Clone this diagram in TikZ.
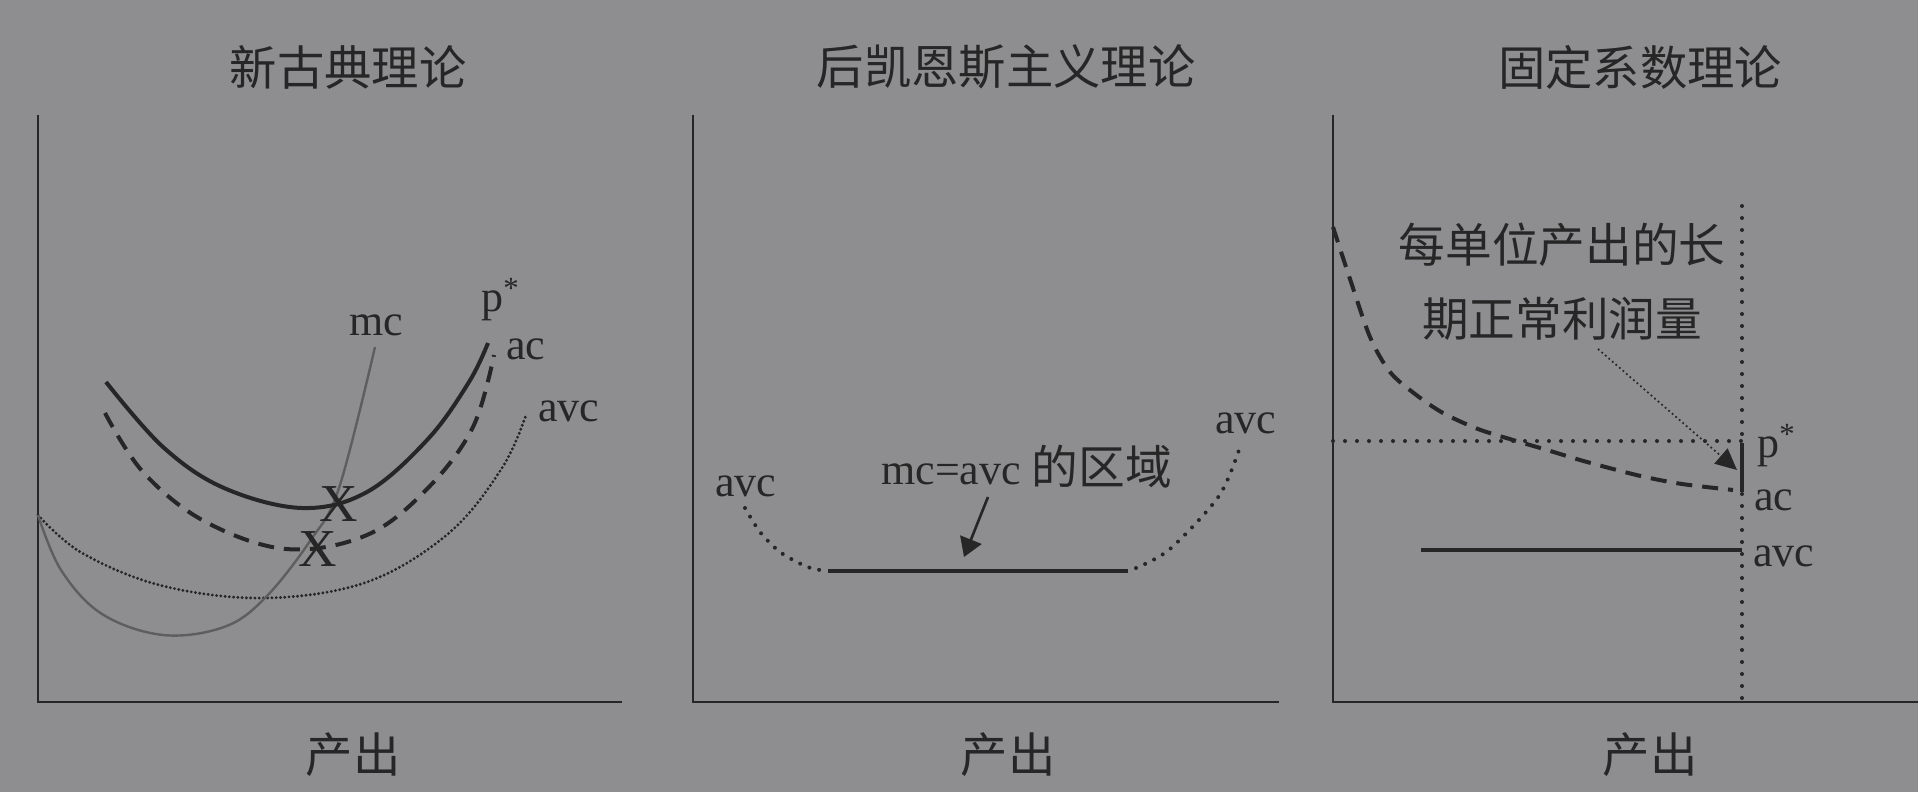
\documentclass[tikz,border=0pt]{standalone}
\usepackage{fontspec}
\setmainfont{Liberation Serif}
\newfontfamily\cjk{Noto Sans CJK SC}
\usetikzlibrary{arrows.meta}
\definecolor{bg}{HTML}{8E8E90}
\definecolor{ink}{HTML}{262626}
\definecolor{mcgray}{HTML}{5E5E5E}
\begin{document}
\begin{tikzpicture}[x=0.75pt,y=-0.75pt,
  axis/.style={draw=ink, line width=1.9pt},
  solidc/.style={draw=ink, line width=3pt},
  dashc/.style={draw=ink, line width=3pt, dash pattern=on 12pt off 7.5pt},
  densedot/.style={draw=ink, line width=2.4pt, line cap=round, dash pattern=on 0pt off 3.2pt},
  sparsedot/.style={draw=ink, line width=3pt, line cap=round, dash pattern=on 0pt off 7.5pt},
  sparsedotb/.style={draw=ink, line width=3pt, line cap=round, dash pattern=on 0pt off 9pt},
  mccurve/.style={draw=mcgray, line width=1.8pt},
  ttl/.style={font=\cjk\fontsize{35.5}{42}\selectfont, text=ink, inner sep=0pt},
  lab/.style={font=\fontsize{33}{38}\selectfont, text=ink, inner sep=0pt},
  cjklab/.style={font=\cjk\fontsize{35}{42}\selectfont, text=ink, inner sep=0pt},
  xmark/.style={font=\fontsize{40}{44}\selectfont, text=ink, inner sep=0pt}]
\fill[bg] (0,0) rectangle (1918,792);
\useasboundingbox (0,0) rectangle (1918,792);

% ---------- titles and x labels
\node[ttl] (t1) at (348,67) {新古典理论};
\node[ttl] (t2) at (1006,67) {后凯恩斯主义理论};
\node[ttl] (t3) at (1640,67) {固定系数理论};
\node[ttl] (o1lab) at (353,755) {产出};
\node[ttl] (o2lab) at (1008,755) {产出};
\node[ttl] (o3lab) at (1650,755) {产出};

% ---------- axes
\coordinate (y1top) at (38,115); \coordinate (o1) at (38,702); \coordinate (x1end) at (622,702);
\coordinate (y2top) at (693,115); \coordinate (o2) at (693,702); \coordinate (x2end) at (1279,702);
\coordinate (y3top) at (1333,115); \coordinate (o3) at (1333,702); \coordinate (x3end) at (1918,702);
\draw[axis] (y1top) -- (o1) -- (x1end);
\draw[axis] (y2top) -- (o2) -- (x2end);
\draw[axis] (y3top) -- (o3) -- (x3end);

% ---------- panel 1
\draw[densedot] plot[smooth, tension=0.6] coordinates {(38,515) (82,553) (163,586) (265,598) (367,582) (449,533) (502,468) (526,415)};
\draw[mccurve] plot[smooth, tension=0.6] coordinates {(38,515) (61,570) (102,614) (163,635) (224,627) (265,598) (310,541) (339,488) (375,347)};
\draw[dashc] plot[smooth, tension=0.6] coordinates {(105,413) (143,472) (204,521) (286,549) (367,535) (428,488) (473,427) (494,355)};
\draw[solidc] plot[smooth, tension=0.6] coordinates {(106,382) (163,447) (224,488) (302,508) (367,492) (428,439) (469,382) (488,343)};
\node[xmark] (x1) at (339,504) {X};
\node[xmark] (x2) at (318,549) {X};
\node[lab, anchor=base west] (mc1) at (349,335) {mc};
\node[lab, anchor=base west] (p1) at (481,311) {p\textsuperscript{*}};
\node[lab, anchor=base west] (ac1) at (506,359) {ac};
\node[lab, anchor=base west] (avc1) at (538,421) {avc};

% ---------- panel 2
\coordinate (fl) at (828,571); \coordinate (fr) at (1128,571);
\draw[sparsedot] plot[smooth] coordinates {(745,508) (760,532) (780,552) (805,566) (820,570)};
\draw[sparsedot] plot[smooth] coordinates {(1136,568) (1170,549) (1219,496) (1240,447)};
\draw[solidc] (fl) -- (fr);
\node[lab, anchor=base west] (avcl) at (715,496) {avc};
\node[lab, anchor=base west] (avcr) at (1215,433) {avc};
\node[lab, anchor=base west] (zone) at (881,484) {mc=avc {\cjk\fontsize{35}{42}\selectfont 的区域}};
\coordinate (a2s) at (988,497); \coordinate (a2e) at (964,557);
\draw[draw=ink, line width=2pt, -{Triangle[length=14pt,width=17pt]}] (a2s) -- (a2e);

% ---------- panel 3
\coordinate (vtop) at (1742,206); \coordinate (vbot) at (1742,700);
\coordinate (hl) at (1333,441); \coordinate (hr) at (1742,441);
\draw[sparsedotb] (vtop) -- (vbot);
\draw[sparsedotb] (hl) -- (hr);
\draw[dashc] plot[smooth, tension=0.5] coordinates {(1333,227) (1349,276) (1370,337) (1390,372) (1415,394) (1443,413) (1478,429) (1513,440) (1547,450) (1580,460) (1613,469) (1645,477) (1682,484) (1733,490)};
\coordinate (pa) at (1742,443); \coordinate (pb) at (1742,492);
\draw[solidc] (pa) -- (pb);
\coordinate (avcs) at (1421,550); \coordinate (avce) at (1742,550);
\draw[solidc] (avcs) -- (avce);
\node[lab, anchor=base west] (p3) at (1757,457) {p\textsuperscript{*}};
\node[lab, anchor=base west] (ac3) at (1754,510) {ac};
\node[lab, anchor=base west] (avc3) at (1753,566) {avc};
\node[cjklab] (note1) at (1562,245) {每单位产出的长};
\node[cjklab] (note2) at (1562,319) {期正常利润量};
\coordinate (a3s) at (1598,349); \coordinate (a3e) at (1737,470);
\draw[draw=ink, line width=1.3pt, dash pattern=on 1.3pt off 2.2pt, -{Triangle[length=16pt,width=15pt]}] (a3s) -- (a3e);
\end{tikzpicture}
\end{document}
